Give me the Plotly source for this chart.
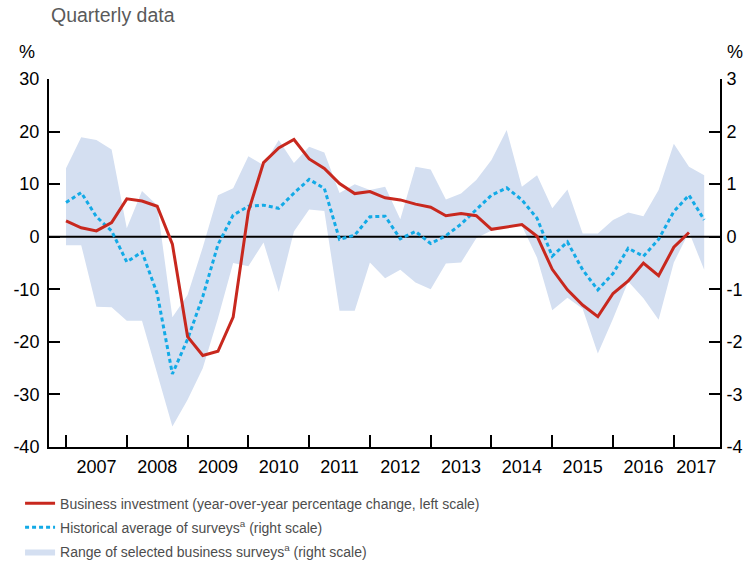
import plotly.graph_objects as go

# ---------------- data ----------------
quarters = [f"{y}Q{q}" for y in range(2007, 2018) for q in range(1, 5)][:43]  # 2007Q1 .. 2017Q3

# Business investment, y/y % change (left scale), 2007Q1..2017Q2
investment = [3.0, 1.7, 1.1, 2.7, 7.2, 6.8, 5.8, -1.4, -19.0, -22.6,
              -21.8, -15.3, 4.8, 14.1, 16.9, 18.5, 14.8, 13.0, 10.1, 8.2,
              8.6, 7.4, 7.0, 6.2, 5.6, 4.0, 4.4, 4.0, 1.4, 1.9,
              2.3, 0.1, -6.2, -10.1, -13.0, -15.2, -10.8, -8.4, -5.0, -7.4,
              -2.0, 0.8]

# Historical average of surveys (right scale), 2007Q1..2017Q3
survey_avg = [0.65, 0.84, 0.38, 0.11, -0.48, -0.29, -1.08, -2.61, -1.95, -1.14,
              -0.15, 0.41, 0.58, 0.60, 0.54, 0.83, 1.09, 0.92, -0.05, 0.03,
              0.38, 0.39, -0.04, 0.10, -0.13, 0.02, 0.24, 0.51, 0.79, 0.93,
              0.70, 0.35, -0.37, -0.10, -0.63, -1.01, -0.70, -0.22, -0.37, -0.05,
              0.48, 0.79, 0.32]

# Range of selected business surveys (right scale)
survey_high = [1.30, 1.89, 1.84, 1.66, 0.16, 0.87, 0.60, -1.53, -1.11, -0.20,
               0.79, 0.92, 1.53, 1.36, 1.84, 1.40, 1.71, 1.60, 0.83, 1.00,
               0.89, 0.95, 0.33, 1.33, 1.28, 0.71, 0.82, 1.08, 1.46, 2.03,
               0.95, 1.17, 0.54, 0.90, 0.06, 0.06, 0.32, 0.46, 0.39, 0.89,
               1.77, 1.33, 1.17]
survey_low = [-0.16, -0.16, -1.33, -1.34, -1.60, -1.60, -2.60, -3.61, -3.10, -2.50,
              -1.55, -0.50, -0.56, -0.11, -1.05, 0.10, 0.52, 0.49, -1.41, -1.41,
              -0.49, -0.79, -0.63, -0.87, -1.00, -0.51, -0.49, -0.03, 0.12, 0.16,
              0.21, -0.40, -1.40, -1.16, -1.37, -2.22, -1.56, -0.85, -1.17, -1.58,
              -0.49, 0.09, -0.63]

years = [str(y) for y in range(2007, 2018)]
left_ticks = [30, 20, 10, 0, -10, -20, -30, -40]
right_ticks = [3, 2, 1, 0, -1, -2, -3, -4]

# ---------------- helpers ----------------
def qpos(label):
    y, q = label.split("Q")
    return int(y) + (int(q) - 1) / 4.0

xq = [qpos(q) for q in quarters]
x_inv = xq[:len(investment)]
year_bounds = [int(y) for y in years]
year_mid = [int(y) + 0.5 for y in years]
year_mid[-1] = int(years[-1]) + 0.37
x_range = [2006.72, 2017.76]

RED = "#c8281e"
BLUE = "#13aae6"
BAND = "#d4dff1"
FONT = "Liberation Sans, Arial, Helvetica, sans-serif"

fig = go.Figure()

# band (right scale, base axis)
fig.add_trace(go.Scatter(x=xq, y=survey_low, mode="lines", line=dict(width=0, color=BAND),
                         showlegend=False, hoverinfo="skip", yaxis="y", legendgroup="band",
                         legendrank=3))
fig.add_trace(go.Scatter(x=xq, y=survey_high, mode="lines", line=dict(width=0, color=BAND),
                         fill="tonexty", fillcolor=BAND, legendgroup="band",
                         name="Range of selected business surveys<sup>a</sup> (right scale)",
                         legendrank=3, yaxis="y"))
# zero reference line
fig.add_trace(go.Scatter(x=x_range, y=[0, 0], mode="lines", line=dict(color="black", width=2),
                         showlegend=False, hoverinfo="skip", yaxis="y", legendrank=4))
# survey average
fig.add_trace(go.Scatter(x=xq, y=survey_avg, mode="lines",
                         line=dict(color=BLUE, width=3, dash="4px,3px"), legendgroup="avg",
                         name="Historical average of surveys<sup>a</sup> (right scale)",
                         legendrank=2, yaxis="y"))
# investment (left scale, overlay axis)
fig.add_trace(go.Scatter(x=x_inv, y=investment, mode="lines",
                         line=dict(color=RED, width=3), legendgroup="inv",
                         name="Business investment (year-over-year percentage change, left scale)",
                         legendrank=1, yaxis="y2"))

axis_common = dict(showline=True, linecolor="black", linewidth=2, showgrid=False,
                   zeroline=False, ticks="inside", ticklen=11, tickwidth=2, tickcolor="black",
                   automargin=False,
                   tickfont=dict(family=FONT, size=18, color="black"))

fig.update_layout(
    width=743, height=563,
    margin=dict(l=49, r=23, t=79, b=116, autoexpand=False),
    paper_bgcolor="white", plot_bgcolor="white",
    font=dict(family=FONT, size=18, color="black"),
    xaxis=dict(range=x_range, showline=True, linecolor="black", linewidth=2,
               showgrid=False, zeroline=False, automargin=False,
               tickmode="array", tickvals=year_mid, ticktext=years, ticks="",
               ticklabelstandoff=2,
               tickfont=dict(family=FONT, size=18, color="black"),
               minor=dict(tickmode="array", tickvals=year_bounds, ticks="inside",
                          ticklen=12, tickwidth=2, tickcolor="black", showgrid=False)),
    yaxis=dict(range=[-4, 3], side="right", tickmode="array", tickvals=right_ticks,
               ticktext=[str(v) for v in right_ticks], ticklabelstandoff=1, **axis_common),
    yaxis2=dict(range=[-40, 30], side="left", overlaying="y", tickmode="array",
                tickvals=left_ticks, ticktext=[str(v) for v in left_ticks],
                ticklabelstandoff=4, **axis_common),
    legend=dict(orientation="v", xref="container", yref="container",
                x=0.027, xanchor="left", y=0.134, yanchor="top",
                font=dict(family=FONT, size=14, color="#4d4d4d"),
                bgcolor="rgba(0,0,0,0)", itemwidth=30, traceorder="grouped",
                tracegroupgap=3),
    showlegend=True,
    annotations=[
        dict(text="Quarterly data", xref="paper", yref="paper", x=0.0, y=1.174,
             xanchor="left", yanchor="middle", showarrow=False,
             font=dict(family=FONT, size=19.5, color="#5a5a5a")),
        dict(text="%", xref="paper", yref="paper", x=-0.033, y=1.073,
             xanchor="center", yanchor="middle", showarrow=False,
             font=dict(family=FONT, size=18, color="black")),
        dict(text="%", xref="paper", yref="paper", x=1.022, y=1.073,
             xanchor="center", yanchor="middle", showarrow=False,
             font=dict(family=FONT, size=18, color="black")),
    ],
)

fig.write_html("out.html", config={"displayModeBar": False},
               post_script="document.body.style.margin='0px';")
